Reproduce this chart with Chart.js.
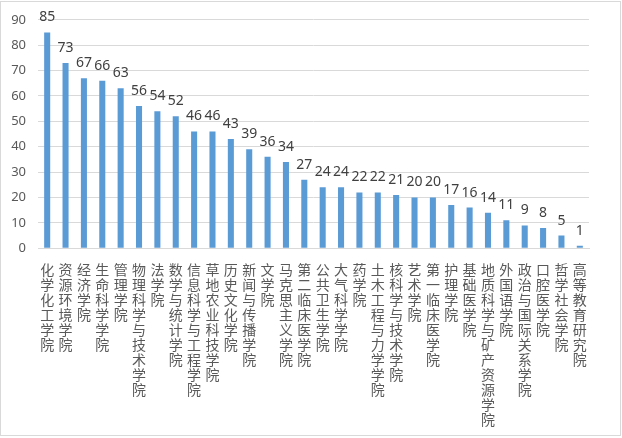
<!DOCTYPE html>
<html lang="zh">
<head>
<meta charset="UTF-8">
<script src="https://cdn.jsdelivr.net/npm/chart.js"></script>
<title>学院统计</title>
<style>
    html, body { margin: 0; padding: 0; background: #fff; }
    .frame {
        position: absolute; left: 0; top: 1px;
        width: 619px; height: 433px;
        border: 1px solid #d9d9d9;
    }
    .chart-container { position: absolute; left: 0; top: 0; width: 622px; height: 438px; }
</style>
</head>
<body>
<div class="frame"></div>
<div class="chart-container"><canvas id="bar"></canvas></div>
<script>
    const categories = ['化学化工学院', '资源环境学院', '经济学院', '生命科学学院', '管理学院',
        '物理科学与技术学院', '法学院', '数学与统计学院', '信息科学与工程学院', '草地农业科技学院',
        '历史文化学院', '新闻与传播学院', '文学院', '马克思主义学院', '第二临床医学院',
        '公共卫生学院', '大气科学学院', '药学院', '土木工程与力学学院', '核科学与技术学院',
        '艺术学院', '第一临床医学院', '护理学院', '基础医学院', '地质科学与矿产资源学院',
        '外国语学院', '政治与国际关系学院', '口腔医学院', '哲学社会学院', '高等教育研究院'];
    const values = [85, 73, 67, 66, 63, 56, 54, 52, 46, 46, 43, 39, 36, 34, 27,
        24, 24, 22, 22, 21, 20, 20, 17, 16, 14, 11, 9, 8, 5, 1];
    const yTicks = [0, 10, 20, 30, 40, 50, 60, 70, 80, 90];

    // draw the value above each bar
    const valueLabels = {
        id: 'valueLabels',
        afterDatasetsDraw(chart) {
            const c = chart.ctx;
            const meta = chart.getDatasetMeta(0);
            c.save();
            c.font = '14px "Noto Sans", sans-serif';
            c.fillStyle = '#404040';
            c.textAlign = 'center';
            c.textBaseline = 'alphabetic';
            meta.data.forEach((bar, i) => {
                c.fillText(values[i], bar.x, bar.y - 11);
            });
            c.restore();
        }
    };

    new Chart(document.getElementById('bar'), {
        type: 'bar',
        data: {
            labels: categories.map(s => Array.from(s)),
            datasets: [{
                data: values,
                backgroundColor: '#5b9bd5',
                barPercentage: 0.33,
                categoryPercentage: 1
            }]
        },
        plugins: [valueLabels],
        options: {
            responsive: true,
            maintainAspectRatio: false,
            animation: false,
            layout: { padding: { top: 19, right: 33, bottom: 5, left: 0 } },
            plugins: { legend: { display: false }, tooltip: { enabled: false } },
            scales: {
                x: {
                    grid: { display: false },
                    border: { color: '#d9d9d9' },
                    ticks: {
                        autoSkip: false, maxRotation: 0, minRotation: 0,
                        color: '#595959', padding: 6,
                        font: { family: '"Noto Sans CJK SC"', size: 14, lineHeight: 1.07 }
                    }
                },
                y: {
                    min: 0, max: 90,
                    afterBuildTicks: axis => { axis.ticks = yTicks.map(v => ({ value: v })); },
                    afterFit: axis => { axis.width = 38; },
                    grid: { color: '#d9d9d9', drawTicks: false },
                    border: { display: false },
                    ticks: {
                        color: '#595959', padding: 12,
                        font: { family: '"Noto Sans"', size: 13 }
                    }
                }
            }
        }
    });
</script>
</body>
</html>
